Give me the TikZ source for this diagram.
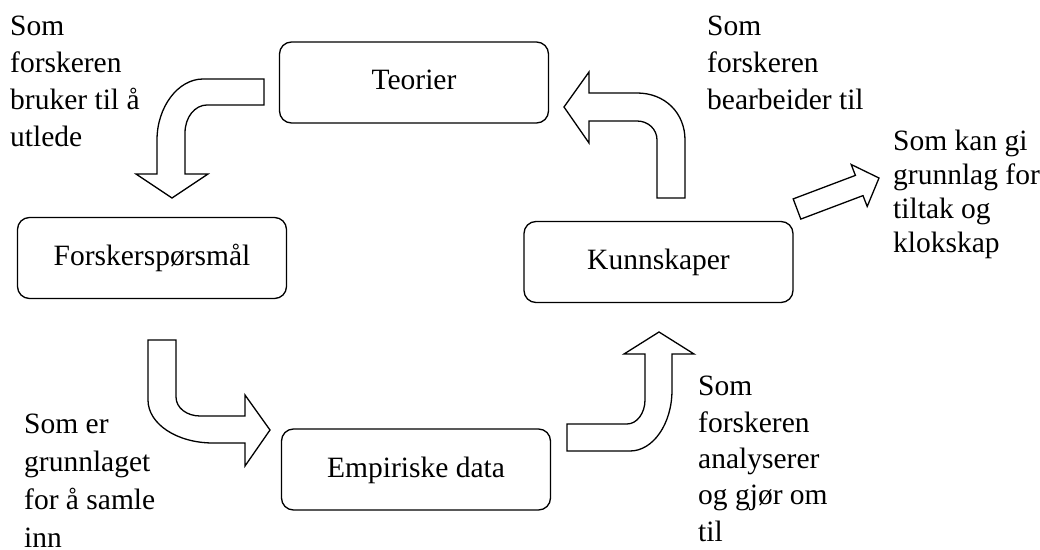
\documentclass[tikz,border=0pt]{standalone}
\usepackage{fontspec}
\setmainfont{Liberation Serif}
\begin{document}
\begin{tikzpicture}[x=1bp, y=-1bp,
  box/.style={draw, line width=1.3bp, rounded corners=12bp, inner sep=0pt,
    minimum width=269bp, text height=48bp, text depth=33bp,
    font=\fontsize{29.5bp}{37bp}\selectfont},
  note/.style={anchor=base west, inner sep=0pt, align=left},
  blockarrow/.style={draw, line width=1.3bp, fill=white, line join=miter}]
\useasboundingbox (0,0) rectangle (1040,550);

% the four stages of the cycle
\node[box] (teorier) at (414,82.5)  {Teorier};
\node[box] (forsk)   at (152,258)   {Forskerspørsmål};
\node[box] (kunn)    at (658.5,262) {Kunnskaper};
\node[box] (emp)     at (416,469.5) {Empiriske data};

% bent block arrows between the stages
\draw[blockarrow] (264,79) -- (203,79) .. controls (178,79) and (157,107) .. (157,140)
  -- (157,174) -- (136,174) -- (172,198) -- (208,174) -- (185,174) -- (185,133)
  .. controls (185,117) and (195,105) .. (207,105) -- (264,105) -- cycle;

\draw[blockarrow] (564,107) -- (589,72) -- (589,93) -- (637,93)
  .. controls (665,93) and (685,113) .. (685,140) -- (685,198) -- (657,198) -- (657,140)
  .. controls (657,129) and (648,121) .. (637,121) -- (589,121) -- (589,143) -- cycle;

\draw[blockarrow] (148,340) -- (176,340) -- (176,397) .. controls (176,408) and (187,416) .. (200,416)
  -- (245,416) -- (245,395) -- (270,430) -- (245,466) -- (245,443) -- (213,443)
  .. controls (177,443) and (148,424) .. (148,400) -- cycle;

\draw[blockarrow] (567,424) -- (627,424) .. controls (637,424) and (645,413) .. (645,400)
  -- (645,354) -- (624,354) -- (659,332) -- (694,354) -- (672,354) -- (672,390)
  .. controls (672,424) and (653,451) .. (630,451) -- (567,451) -- cycle;

% straight arrow leaving the cycle
\draw[blockarrow] (793.2,198.9) -- (855.4,175.4) -- (851.2,164.5) -- (879,178)
  -- (867.2,206.5) -- (863,195.6) -- (800.8,219.1) -- cycle;

% explanatory texts, each placed by the baseline of its last line
\node[note, font=\fontsize{29.5bp}{37bp}\selectfont] (t1) at (10,147)
  {Som\\forskeren\\bruker til å\\utlede};
\node[note, font=\fontsize{29.5bp}{37bp}\selectfont] (t2) at (707,110)
  {Som\\forskeren\\bearbeider til};
\node[note, font=\fontsize{29.5bp}{34bp}\selectfont] (t3) at (893,253)
  {Som kan gi\\grunnlag for\\tiltak og\\klokskap};
\node[note, font=\fontsize{29.5bp}{38bp}\selectfont] (t4) at (24,547)
  {Som er\\grunnlaget\\for å samle\\inn};
\node[note, font=\fontsize{29.5bp}{36.3bp}\selectfont] (t5) at (698,541)
  {Som\\forskeren\\analyserer\\og gjør om\\til};
\end{tikzpicture}
\end{document}
